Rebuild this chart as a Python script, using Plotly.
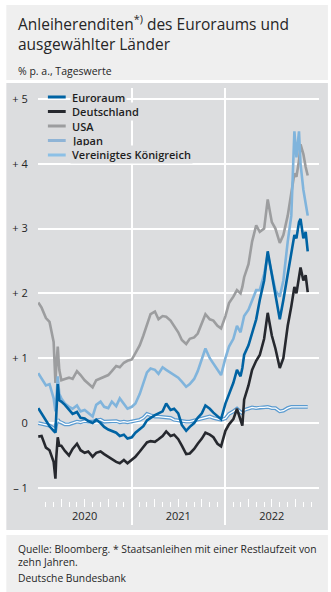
import plotly.graph_objects as go

# Semi-monthly observations (extra points around the March 2020 turbulence and autumn 2022)
dates = [
    "2020-01-02", "2020-01-15", "2020-02-01", "2020-02-15", "2020-03-02", "2020-03-09",
    "2020-03-12", "2020-03-18", "2020-03-24", "2020-04-01", "2020-04-15", "2020-05-01",
    "2020-05-15", "2020-06-01", "2020-06-15", "2020-07-01", "2020-07-15", "2020-08-01",
    "2020-08-15", "2020-09-01", "2020-09-15", "2020-10-01", "2020-10-15", "2020-11-01",
    "2020-11-15", "2020-12-01", "2020-12-15",
    "2021-01-01", "2021-01-15", "2021-02-01", "2021-02-15", "2021-03-01", "2021-03-15",
    "2021-04-01", "2021-04-15", "2021-05-01", "2021-05-15", "2021-06-01", "2021-06-15",
    "2021-07-01", "2021-07-15", "2021-08-01", "2021-08-15", "2021-09-01", "2021-09-15",
    "2021-10-01", "2021-10-15", "2021-11-01", "2021-11-15", "2021-12-01", "2021-12-15",
    "2022-01-01", "2022-01-15", "2022-02-01", "2022-02-15", "2022-03-01", "2022-03-08",
    "2022-03-15", "2022-04-01", "2022-04-15", "2022-05-01", "2022-05-15", "2022-06-01",
    "2022-06-15", "2022-07-01", "2022-07-15", "2022-08-01", "2022-08-15", "2022-09-01",
    "2022-09-15", "2022-09-27", "2022-10-05", "2022-10-15", "2022-10-21", "2022-11-01",
    "2022-11-10", "2022-11-18",
]

euroraum = [
    0.23, 0.15, 0.05, -0.05, -0.12, -0.15, 0.10, 0.60, 0.35, 0.33, 0.28, 0.20, 0.14, 0.17,
    0.08, 0.07, 0.03, 0.00, 0.05, 0.00, -0.06, -0.10, -0.12, -0.15, -0.20, -0.18, -0.24,
    -0.22, -0.15, -0.10, -0.05, 0.04, 0.08, 0.12, 0.15, 0.18, 0.30, 0.20, 0.22, 0.15, -0.03,
    -0.12, -0.06, 0.00, 0.08, 0.15, 0.27, 0.22, 0.16, 0.10, 0.06,
    0.30, 0.45, 0.62, 0.82, 0.72, 0.85, 1.05, 1.20, 1.40, 1.60, 1.90, 2.20, 2.65, 2.30,
    2.00, 1.60, 1.90, 2.30, 2.60, 2.90, 2.85, 3.10, 3.15, 2.85, 2.95, 2.65,
]

deutschland = [
    -0.21, -0.20, -0.38, -0.42, -0.60, -0.86, -0.55, -0.22, -0.35, -0.35, -0.43, -0.50, -0.40,
    -0.32, -0.42, -0.46, -0.44, -0.52, -0.46, -0.44, -0.48, -0.52, -0.56, -0.60, -0.62, -0.57,
    -0.62,
    -0.57, -0.52, -0.44, -0.36, -0.30, -0.28, -0.29, -0.25, -0.20, -0.13, -0.20, -0.18, -0.25,
    -0.35, -0.48, -0.47, -0.40, -0.32, -0.24, -0.15, -0.18, -0.22, -0.32, -0.36,
    -0.12, -0.02, 0.06, 0.22, 0.05, -0.04, 0.36, 0.58, 0.82, 0.96, 1.05, 1.30, 1.70, 1.35,
    1.15, 0.85, 1.00, 1.50, 1.80, 2.10, 2.00, 2.30, 2.40, 2.20, 2.28, 2.02,
]

usa = [
    1.86, 1.78, 1.62, 1.56, 1.25, 0.62, 0.85, 1.18, 0.82, 0.66, 0.68, 0.70, 0.68, 0.80, 0.74,
    0.66, 0.61, 0.55, 0.66, 0.69, 0.72, 0.74, 0.80, 0.88, 0.86, 0.93, 0.96,
    0.98, 1.08, 1.20, 1.35, 1.52, 1.68, 1.72, 1.60, 1.65, 1.64, 1.58, 1.50, 1.40, 1.28, 1.22,
    1.30, 1.32, 1.38, 1.55, 1.68, 1.60, 1.58, 1.50, 1.46,
    1.65, 1.85, 1.95, 2.05, 2.00, 2.10, 2.25, 2.45, 2.80, 3.05, 2.95, 3.00, 3.45, 3.10, 3.00,
    2.78, 2.90, 3.20, 3.55, 3.85, 3.80, 4.05, 4.30, 4.15, 3.95, 3.82,
]

japan = [
    0.00, -0.01, -0.03, -0.04, -0.08, -0.10, -0.02, 0.05, 0.02, 0.01, -0.02, -0.02, 0.00, 0.02,
    0.01, 0.03, 0.02, 0.02, 0.04, 0.05, 0.02, 0.02, 0.03, 0.03, 0.01, 0.02, 0.01,
    0.02, 0.04, 0.05, 0.08, 0.14, 0.12, 0.10, 0.10, 0.09, 0.08, 0.08, 0.05, 0.04, 0.02, 0.02,
    0.02, 0.04, 0.05, 0.07, 0.09, 0.10, 0.08, 0.06, 0.05,
    0.07, 0.14, 0.18, 0.22, 0.17, 0.15, 0.20, 0.22, 0.24, 0.23, 0.24, 0.24, 0.25, 0.23, 0.23,
    0.18, 0.19, 0.23, 0.25, 0.25, 0.25, 0.25, 0.25, 0.25, 0.25, 0.25,
]

vereinigtes_koenigreich = [
    0.77, 0.68, 0.58, 0.60, 0.38, 0.18, 0.30, 0.72, 0.45, 0.38, 0.30, 0.25, 0.22, 0.27, 0.18,
    0.20, 0.15, 0.10, 0.28, 0.33, 0.25, 0.23, 0.33, 0.26, 0.38, 0.30, 0.22,
    0.25, 0.30, 0.45, 0.60, 0.78, 0.84, 0.82, 0.76, 0.86, 0.82, 0.78, 0.74, 0.70, 0.64, 0.56,
    0.60, 0.68, 0.80, 1.00, 1.15, 1.00, 0.92, 0.82, 0.74,
    1.00, 1.18, 1.30, 1.50, 1.40, 1.55, 1.65, 1.75, 1.90, 2.05, 2.05, 2.30, 2.60, 2.30, 2.05,
    1.95, 2.20, 2.80, 3.20, 4.50, 4.10, 4.50, 4.00, 3.60, 3.40, 3.20,
]

series_names = ["Euroraum", "Deutschland", "USA", "Japan", "Vereinigtes Königreich"]
y_tickvals = [-1, 0, 1, 2, 3, 4, 5]
y_ticktext = ["\u2013 1", "0", "+ 1", "+ 2", "+ 3", "+ 4", "+ 5"]
year_ticks = ["2020-07-01", "2021-07-01", "2022-07-01"]
year_labels = ["2020", "2021", "2022"]
year_bounds = ["2020-01-01", "2021-01-01", "2022-01-01", "2023-01-01"]
x_range = ["2020-01-01", "2023-01-01"]
y_range = [-1.574, 5.17]

# styling
FONT = "Open Sans"
TEXT = "#262626"
PANEL = "#dcdddf"
LIGHT = "#efefef"
line_colors = {
    "Euroraum": "#0063a3",
    "Deutschland": "#26282e",
    "USA": "#9c9d9f",
    "Japan": "#5b9bd0",
    "Vereinigtes Königreich": "#80b4dc",
}
legend_colors = {
    "Euroraum": "#0063a3",
    "Deutschland": "#26282e",
    "USA": "#9c9d9f",
    "Japan": "#8fb4d6",
    "Vereinigtes Königreich": "#8cc0e6",
}

W, H = 331, 592
L, R, T, B = 35, 319, 88, 525


def px(x):
    return (x - L) / (R - L)


def py(y):
    return (B - y) / (B - T)


fig = go.Figure()

values = {
    "Euroraum": euroraum,
    "Deutschland": deutschland,
    "USA": usa,
    "Japan": japan,
    "Vereinigtes Königreich": vereinigtes_koenigreich,
}

# drawing order: USA, UK, Japan, Euroraum, Deutschland
for name in ["USA", "Vereinigtes Königreich", "Japan", "Euroraum", "Deutschland"]:
    if name == "Japan":
        fig.add_trace(go.Scatter(x=dates, y=values[name], mode="lines", name=name,
                                 line=dict(color=line_colors[name], width=3.8),
                                 showlegend=False))
        fig.add_trace(go.Scatter(x=dates, y=values[name], mode="lines", name=name,
                                 line=dict(color="white", width=1.3),
                                 showlegend=False, hoverinfo="skip"))
    else:
        fig.add_trace(go.Scatter(x=dates, y=values[name], mode="lines", name=name,
                                 line=dict(color=line_colors[name], width=2.6),
                                 showlegend=False))

shapes = [
    dict(type="rect", xref="paper", yref="paper", x0=px(3), x1=px(328), y0=py(5), y1=py(80),
         fillcolor=LIGHT, line_width=0, layer="below"),
    dict(type="rect", xref="paper", yref="paper", x0=px(3), x1=px(328), y0=py(83), y1=py(530),
         fillcolor=PANEL, line_width=0, layer="below"),
    dict(type="rect", xref="paper", yref="paper", x0=px(3), x1=px(328), y0=py(535), y1=py(592),
         fillcolor=LIGHT, line_width=0, layer="below"),
]

annotations = [
    dict(xref="paper", yref="paper", x=px(13), y=py(9), xanchor="left", yanchor="top",
         align="left", showarrow=False,
         text="Anleiherenditen<sup>*)</sup> des Euroraums und<br>ausgewählter Länder",
         font=dict(family=FONT, size=15.5, color=TEXT)),
    dict(xref="paper", yref="paper", x=px(13), y=py(71), xanchor="left", yanchor="middle",
         showarrow=False, text="% p. a., Tageswerte",
         font=dict(family=FONT, size=10.5, color=TEXT)),
    dict(xref="paper", yref="paper", x=px(13), y=py(540), xanchor="left", yanchor="top",
         align="left", showarrow=False,
         text="Quelle: Bloomberg. * Staatsanleihen mit einer Restlaufzeit von<br>zehn Jahren.",
         font=dict(family=FONT, size=10.3, color=TEXT)),
    dict(xref="paper", yref="paper", x=px(13), y=py(578), xanchor="left", yanchor="middle",
         showarrow=False, text="Deutsche Bundesbank",
         font=dict(family=FONT, size=10.3, color=TEXT)),
]

# hand-built legend with text knock-outs over the grid
for i, name in enumerate(series_names):
    yc = 97 + i * 14.5
    shapes.append(dict(type="line", xref="paper", yref="paper", x0=px(45), x1=px(63),
                       y0=py(yc), y1=py(yc), line=dict(color=legend_colors[name], width=3)))
    annotations.append(dict(xref="paper", yref="paper", x=px(67), y=py(yc), xanchor="left",
                            yanchor="middle", showarrow=False, text=name, bgcolor=PANEL,
                            borderpad=1,
                            font=dict(family=FONT, size=11, color="#1e1e1e", weight=600)))

axis_common = dict(range=x_range, type="date", showgrid=False, zeroline=False, showline=False)

fig.update_layout(
    width=W, height=H,
    margin=dict(l=L, r=W - R, t=T, b=H - B, pad=0),
    paper_bgcolor="white",
    plot_bgcolor="rgba(0,0,0,0)",
    showlegend=False,
    shapes=shapes,
    annotations=annotations,
    xaxis=dict(**{**axis_common, "showgrid": True}, tickvals=year_bounds[1:3],
               gridcolor="white", gridwidth=1.5, showticklabels=False, ticks=""),
    # long year-boundary ticks at the bottom
    xaxis2=dict(**axis_common, overlaying="x", anchor="free", position=py(523),
                tickvals=year_bounds, ticks="inside", ticklen=25, tickwidth=1.6,
                tickcolor="white", showticklabels=False),
    # quarterly and monthly ticks
    xaxis3=dict(**axis_common, overlaying="x", anchor="free", position=py(507),
                tick0="2020-01-01", dtick="M3", ticks="inside", ticklen=8, tickwidth=1.4,
                tickcolor="white", showticklabels=False,
                minor=dict(dtick="M1", ticks="inside", ticklen=5, tickwidth=1.2,
                           tickcolor="white")),
    # year labels centred in each year
    xaxis4=dict(**axis_common, overlaying="x", anchor="free", position=py(508),
                tickvals=year_ticks, ticktext=year_labels, ticks="",
                tickfont=dict(family=FONT, size=11, color=TEXT)),
    yaxis=dict(range=y_range, tickvals=y_tickvals, ticktext=y_ticktext,
               showgrid=True, gridcolor="white", gridwidth=2, zeroline=False,
               showline=False, ticks="outside", ticklen=7, tickcolor="rgba(0,0,0,0)",
               tickfont=dict(family=FONT, size=11, color=TEXT)),
)

# attach the helper axes so they are rendered
for ax in ["x2", "x3", "x4"]:
    fig.add_trace(go.Scatter(x=[None], y=[None], xaxis=ax, yaxis="y", showlegend=False,
                             hoverinfo="skip"))

fig.write_html("out.html")
